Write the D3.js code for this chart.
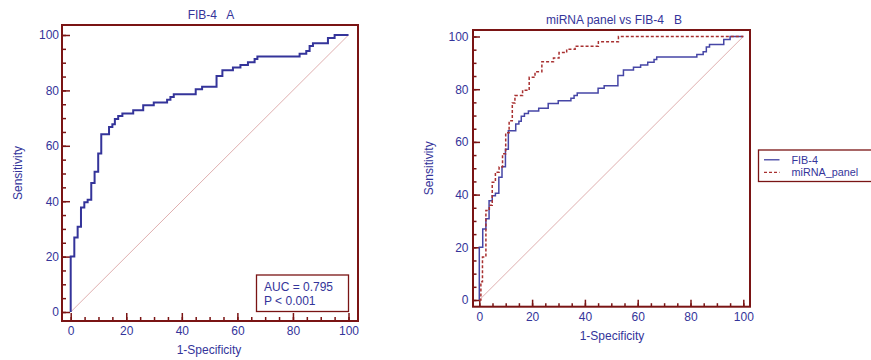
<!DOCTYPE html>
<html>
<head>
<meta charset="utf-8">
<script src="https://cdn.jsdelivr.net/npm/d3@7"></script>
<style>
  body { margin: 0; background: #fff; }
  svg text { font-family: "Liberation Sans", Arial, sans-serif; font-size: 12px; fill: #34349a; }
</style>
</head>
<body>
<svg width="871" height="360"></svg>
<script>
// ROC points: curve goes flat at tpr[i] starting from fpr[i]
const fib4Fpr = [0, 0, 1.3, 2.5, 3.7, 4.9, 6.1, 7.4, 8.6, 9.9, 11.0, 13.8, 15.0, 15.9, 17.1, 18.6, 22.5, 26.1, 29.9, 34.7, 35.9, 37.1, 45.0, 47.3, 52.5, 54.6, 58.4, 61.1, 63.8, 66.2, 67.2, 82.4, 84.8, 86.0, 87.2, 92.6, 95.0, 100];
const fib4Tpr = [0, 20.0, 26.9, 30.8, 37.7, 39.6, 40.5, 46.6, 50.6, 57.2, 64.2, 66.8, 67.8, 69.7, 70.8, 71.7, 72.8, 74.6, 75.6, 76.6, 77.6, 78.6, 80.4, 81.3, 85.2, 87.3, 88.3, 89.2, 90.2, 91.3, 92.2, 93.2, 94.2, 96.0, 97.0, 98.9, 100, 100];

const mirnaFpr = [0, 0.6, 1.2, 2.5, 3.8, 4.9, 6.1, 7.5, 8.8, 10.0, 11.3, 12.5, 13.5, 16.4, 18.9, 21.1, 23.7, 28.1, 30.2, 33.1, 36.3, 45.1, 52.7, 100];
const mirnaTpr = [0, 6.9, 16.3, 34.0, 36.0, 44.7, 48.5, 50.5, 55.5, 63.5, 68.0, 74.8, 77.6, 79.6, 84.5, 86.6, 90.4, 91.8, 93.9, 95.2, 96.3, 98.0, 100, 100];

const majorTicks = [0, 20, 40, 60, 80, 100];
const minorTicks = d3.range(0, 101, 5);
const legendNames = ["FIB-4", "miRNA_panel"];

const FRAME = "#7a1414",
  BLUE = "#34349a",
  RED = "#a83030",
  DIAG = "#dba6a6";

const svg = d3.select("svg");

const toPoints = (xs, ys) => xs.map((x, i) => [x, ys[i]]);

const drawPanel = p => {
  const x = d3.scaleLinear().domain([0, 100]).range([p.x0, p.x1]);
  const y = d3.scaleLinear().domain([0, 100]).range([p.y0, p.y1]);
  const g = svg.append("g");

  // minor ticks first, then major ones with labels
  g.append("g")
    .attr("transform", `translate(${p.fl},0)`)
    .call(d3.axisLeft(y).tickValues(minorTicks).tickSize(-p.minor).tickFormat(""));
  g.append("g")
    .attr("transform", `translate(0,${p.fb})`)
    .call(d3.axisBottom(x).tickValues(minorTicks).tickSize(-p.minor).tickFormat(""));
  g.append("g")
    .attr("transform", `translate(${p.fl},0)`)
    .call(d3.axisLeft(y).tickValues(majorTicks).tickSize(-p.major).tickPadding(p.padY));
  g.append("g")
    .attr("transform", `translate(0,${p.fb})`)
    .call(d3.axisBottom(x).tickValues(majorTicks).tickSize(-p.major).tickPadding(p.padX));

  g.selectAll(".domain").remove();
  g.selectAll(".tick line").attr("stroke", FRAME).attr("stroke-width", 1.5);
  g.selectAll(".tick text")
    .attr("fill", BLUE)
    .style("font-size", "12px")
    .style("font-family", "'Liberation Sans', Arial, sans-serif");

  // reference diagonal
  g.append("line")
    .attr("x1", x(0)).attr("y1", y(0))
    .attr("x2", x(100)).attr("y2", y(100))
    .attr("stroke", DIAG)
    .attr("stroke-width", 0.9);

  const line = d3.line().x(d => x(d[0])).y(d => y(d[1])).curve(d3.curveStepAfter);

  p.series.forEach(s => {
    g.append("path")
      .attr("d", line(toPoints(s.fpr, s.tpr)))
      .attr("fill", "none")
      .attr("stroke", s.color)
      .attr("stroke-width", s.width)
      .attr("stroke-dasharray", s.dash || null);
  });

  g.append("rect")
    .attr("x", p.fl).attr("y", p.ft)
    .attr("width", p.fr - p.fl).attr("height", p.fb - p.ft)
    .attr("fill", "none")
    .attr("stroke", FRAME)
    .attr("stroke-width", 2);

  g.append("text")
    .attr("x", p.titleX).attr("y", p.titleY)
    .attr("text-anchor", "middle")
    .attr("xml:space", "preserve")
    .style("white-space", "pre")
    .text(p.title);

  g.append("text")
    .attr("x", p.titleX - 2).attr("y", p.xTitleY)
    .attr("text-anchor", "middle")
    .text("1-Specificity");

  g.append("text")
    .attr("transform", `translate(${p.yTitleX},${(p.ft + p.fb) / 2}) rotate(-90)`)
    .attr("text-anchor", "middle")
    .text("Sensitivity");

  return g;
};

const left = drawPanel({
  fl: 62, ft: 25, fr: 358, fb: 321,
  x0: 70.7, x1: 348.5, y0: 312, y1: 35,
  major: 8, minor: 4, padY: 3, padX: 5,
  title: "FIB-4   A", titleX: 211, titleY: 19, xTitleY: 354, yTitleX: 22,
  series: [{ fpr: fib4Fpr, tpr: fib4Tpr, color: BLUE, width: 2 }]
});

// AUC box
left.append("rect")
  .attr("x", 256.5).attr("y", 275)
  .attr("width", 92).attr("height", 36.5)
  .attr("fill", "#fff")
  .attr("stroke", FRAME)
  .attr("stroke-width", 1.3);
left.append("text").attr("x", 264).attr("y", 291).text("AUC = 0.795");
left.append("text").attr("x", 264).attr("y", 305).text("P < 0.001");

drawPanel({
  fl: 473, ft: 30, fr: 750, fb: 306.7,
  x0: 479.3, x1: 743.3, y0: 300, y1: 36.5,
  major: 7, minor: 3.5, padY: 4.5, padX: 5.5,
  title: "miRNA panel vs FIB-4   B", titleX: 614, titleY: 23.5, xTitleY: 339.5, yTitleX: 433,
  series: [
    { fpr: fib4Fpr, tpr: fib4Tpr, color: "#4646a6", width: 1.5 },
    { fpr: mirnaFpr, tpr: mirnaTpr, color: RED, width: 1.5, dash: "3,2" }
  ]
});

// legend
const legend = svg.append("g");
legend.append("rect")
  .attr("x", 758.5).attr("y", 150)
  .attr("width", 120).attr("height", 31.5)
  .attr("fill", "#fff")
  .attr("stroke", FRAME)
  .attr("stroke-width", 1.3);

const legendStyles = [
  { color: BLUE, dash: null },
  { color: RED, dash: "3,2" }
];
legend.selectAll(".entry")
  .data(legendNames)
  .enter()
  .append("g")
  .attr("transform", (d, i) => `translate(0,${159.8 + i * 12.6})`)
  .each(function (d, i) {
    const e = d3.select(this);
    e.append("line")
      .attr("x1", 764).attr("x2", 779.5)
      .attr("stroke", legendStyles[i].color)
      .attr("stroke-width", 1.2)
      .attr("stroke-dasharray", legendStyles[i].dash);
    e.append("text")
      .attr("x", 791.5)
      .attr("dy", "0.35em")
      .style("font-size", "10.8px")
      .text(d);
  });
</script>
</body>
</html>
